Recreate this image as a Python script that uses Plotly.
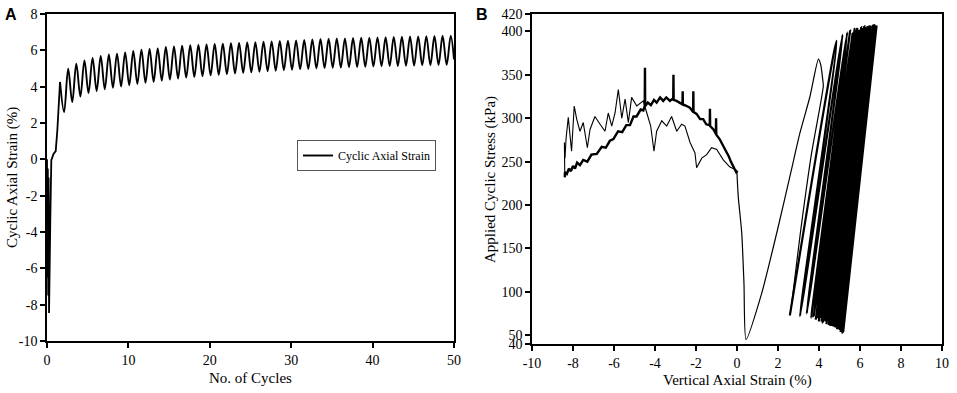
import plotly.graph_objects as go

# ---------------- Panel A data ----------------
a_init_cycle = [0.0, 0.05, 0.10, 0.15, 0.20, 0.25, 0.40, 0.53, 0.80, 1.07, 1.27, 1.48, 1.60]
a_init_strain = [0.0, -6.5, -0.5, -7.5, -1.0, -8.46, -3.5, -0.05, 0.30, 0.45, 1.6, 3.6, 4.26]

a_peak_cycle = [k + 0.6 for k in range(1, 50)]
a_peak_strain = [4.26, 4.99, 5.27, 5.45, 5.58, 5.69, 5.78, 5.82, 5.89, 5.96,
                 6.04, 6.07, 6.11, 6.18, 6.22, 6.26, 6.28, 6.30, 6.32, 6.35,
                 6.37, 6.39, 6.41, 6.43, 6.45, 6.47, 6.49, 6.51, 6.53, 6.55,
                 6.57, 6.60, 6.62, 6.64, 6.65, 6.66, 6.68, 6.69, 6.70, 6.71,
                 6.72, 6.74, 6.75, 6.76, 6.77, 6.78, 6.79, 6.80, 6.81]
a_trough_cycle = [k + 0.1 for k in range(2, 50)]
a_trough_strain = [2.60, 3.15, 3.45, 3.65, 3.76, 3.86, 3.94, 4.01, 4.08, 4.15,
                   4.21, 4.27, 4.33, 4.39, 4.45, 4.50, 4.54, 4.58, 4.62, 4.66,
                   4.69, 4.73, 4.76, 4.79, 4.82, 4.85, 4.88, 4.90, 4.93, 4.95,
                   4.97, 5.00, 5.02, 5.04, 5.05, 5.07, 5.08, 5.10, 5.11, 5.12,
                   5.13, 5.14, 5.15, 5.16, 5.17, 5.18, 5.19, 5.20]
a_end_cycle = 50.0
a_end_strain = 5.5

a_xticks = [0, 10, 20, 30, 40, 50]
a_xticklabels = ["0", "10", "20", "30", "40", "50"]
a_yticks = [-10, -8, -6, -4, -2, 0, 2, 4, 6, 8]
a_yticklabels = ["-10", "-8", "-6", "-4", "-2", "0", "2", "4", "6", "8"]

# ---------------- Panel B data ----------------
b_out_strain = [0.05, -0.02, -0.36, -0.67, -0.99, -1.24, -1.48, -1.72, -1.97, -2.05,
                -2.29, -2.54, -2.70, -2.94, -3.19, -3.43, -3.67, -3.92, -4.05, -4.21,
                -4.40, -4.57, -4.89, -5.14, -5.30, -5.46, -5.62, -5.79, -5.95, -6.11,
                -6.28, -6.44, -6.68, -6.93, -7.17, -7.30, -7.50, -7.66, -7.82, -7.94,
                -8.07, -8.23, -8.34, -8.39, -8.42, -8.40]
b_out_stress = [238, 240, 244, 252, 264, 266, 258, 254, 243, 260,
                272, 291, 293, 285, 302, 291, 297, 285, 262, 291,
                306, 320, 314, 324, 295, 322, 300, 333, 306, 291,
                306, 285, 293, 302, 287, 266, 295, 285, 299, 314,
                262, 301, 276, 254, 272, 232]

b_back_strain = [-8.40, -8.39, -8.30, -8.20, -8.10, -8.00, -7.90, -7.80, -7.66, -7.50,
                 -7.30, -7.10, -6.84, -6.60, -6.40, -6.20, -6.03, -5.80, -5.60, -5.40,
                 -5.22, -5.05, -4.90, -4.70, -4.57, -4.50, -4.49, -4.48, -4.35, -4.20,
                 -4.05, -3.92, -3.75, -3.60, -3.45, -3.27, -3.11, -3.10, -3.09, -2.95,
                 -2.80, -2.66, -2.65, -2.64, -2.45, -2.30, -2.14, -2.13, -2.12, -1.97,
                 -1.80, -1.65, -1.50, -1.33, -1.32, -1.31, -1.15, -1.03, -1.02, -1.01,
                 -0.85, -0.67, -0.50, -0.40, -0.30, -0.18, -0.08, 0.00]
b_back_stress = [232, 238, 236, 242, 239, 245, 242, 249, 246, 252,
                 250, 258, 259, 267, 266, 274, 276, 285, 284, 292,
                 292, 302, 302, 310, 309, 314, 358, 314, 318, 315,
                 321, 318, 324, 320, 324, 320, 323, 350, 321, 320,
                 318, 316, 331, 316, 314, 312, 307, 331, 307, 305,
                 299, 299, 293, 292, 311, 291, 287, 282, 300, 281,
                 276, 268, 262, 256, 250, 244, 240, 236]

b_first_strain = [0.00, 0.06, 0.23, 0.34, 0.44, 1.20, 2.01, 2.62, 3.07, 3.56,
                  3.97, 4.08, 4.18, 4.21, 3.64, 3.07, 2.67, 2.58]
b_first_stress = [236, 210, 168, 110, 45, 98, 175, 237, 283, 325,
                  368, 362, 345, 337, 260, 164, 87, 73]

b_trough_strain = [2.58, 3.07, 3.40, 3.62, 3.74, 3.84, 3.92, 3.99, 4.06, 4.13,
                   4.19, 4.25, 4.31, 4.37, 4.43, 4.48, 4.52, 4.56, 4.60, 4.64,
                   4.67, 4.71, 4.74, 4.77, 4.80, 4.83, 4.86, 4.88, 4.91, 4.93,
                   4.95, 4.98, 5.00, 5.02, 5.03, 5.05, 5.06, 5.08, 5.09, 5.10,
                   5.11, 5.12, 5.13, 5.14, 5.15, 5.16, 5.17, 5.18]
b_trough_stress = [73, 72, 75, 70, 72, 68, 71, 66, 70, 67,
                   65, 69, 66, 64, 67, 63, 66, 62, 65, 61,
                   64, 60, 63, 62, 59, 62, 60, 58, 61, 59,
                   57, 60, 58, 56, 59, 57, 55, 58, 56, 54,
                   57, 55, 56, 54, 55, 53, 55, 54]
b_top_strain = [4.86, 5.15, 5.38, 5.52, 5.64, 5.74, 5.80, 5.87, 5.94, 6.02,
                6.06, 6.10, 6.17, 6.21, 6.25, 6.28, 6.30, 6.32, 6.35, 6.37,
                6.39, 6.41, 6.43, 6.45, 6.47, 6.49, 6.51, 6.53, 6.55, 6.57,
                6.60, 6.62, 6.64, 6.65, 6.66, 6.68, 6.69, 6.70, 6.71, 6.72,
                6.74, 6.75, 6.76, 6.77, 6.78, 6.79, 6.80, 6.81]
b_top_stress = [389, 396, 399, 401, 398, 403, 400, 404, 402, 399,
                405, 403, 401, 406, 404, 400, 403, 405, 402, 406,
                404, 401, 405, 403, 407, 404, 402, 405, 403, 406,
                404, 402, 405, 407, 403, 405, 404, 406, 403, 405,
                407, 404, 406, 405, 403, 406, 405, 407]

b_xticks = [-10, -8, -6, -4, -2, 0, 2, 4, 6, 8, 10]
b_xticklabels = ["-10", "-8", "-6", "-4", "-2", "0", "2", "4", "6", "8", "10"]
b_yticks = [40, 50, 100, 150, 200, 250, 300, 350, 400, 420]
b_yticklabels = ["40", "50", "100", "150", "200", "250", "300", "350", "400", "420"]

# ---------------- Build sequences ----------------
osc_x, osc_y = [a_peak_cycle[0]], [a_peak_strain[0]]
for i in range(len(a_trough_cycle)):
    osc_x += [a_trough_cycle[i], a_peak_cycle[i + 1]]
    osc_y += [a_trough_strain[i], a_peak_strain[i + 1]]
osc_x.append(a_end_cycle)
osc_y.append(a_end_strain)

loop_x, loop_y = [], []
for i in range(len(b_trough_strain)):
    loop_x += [b_trough_strain[i], b_top_strain[i]]
    loop_y += [b_trough_stress[i], b_top_stress[i]]

SERIF = "Liberation Serif"
SANS = "Liberation Sans"
BLACK = "#000000"

fig = go.Figure()
fig.add_trace(go.Scatter(x=a_init_cycle, y=a_init_strain, mode="lines",
                         line=dict(color=BLACK, width=1.8), xaxis="x", yaxis="y",
                         showlegend=False, legendgroup="a"))
fig.add_trace(go.Scatter(x=osc_x, y=osc_y, mode="lines", name="Cyclic Axial Strain",
                         line=dict(color=BLACK, width=1.9, shape="spline", smoothing=1.0),
                         xaxis="x", yaxis="y", legendgroup="a"))

fig.add_trace(go.Scatter(x=b_out_strain, y=b_out_stress, mode="lines",
                         line=dict(color=BLACK, width=1.1), xaxis="x2", yaxis="y2",
                         showlegend=False))
fig.add_trace(go.Scatter(x=b_back_strain, y=b_back_stress, mode="lines",
                         line=dict(color=BLACK, width=2.4), xaxis="x2", yaxis="y2",
                         showlegend=False))
fig.add_trace(go.Scatter(x=b_first_strain, y=b_first_stress, mode="lines",
                         line=dict(color=BLACK, width=1.2, shape="spline", smoothing=0.6),
                         xaxis="x2", yaxis="y2", showlegend=False))
fig.add_trace(go.Scatter(x=loop_x, y=loop_y, mode="lines",
                         line=dict(color=BLACK, width=2.2, shape="spline", smoothing=1.3),
                         xaxis="x2", yaxis="y2", showlegend=False))

axis_common = dict(showline=True, mirror=True, linecolor=BLACK, linewidth=1.5,
                   ticks="outside", ticklen=5, tickwidth=1.5, tickcolor=BLACK,
                   showgrid=False, zeroline=False, automargin=False,
                   tickfont=dict(family=SERIF, size=14, color=BLACK))

fig.update_layout(
    width=957, height=393,
    margin=dict(l=0, r=0, t=14, b=49, autoexpand=False),
    paper_bgcolor="white", plot_bgcolor="white",
    font=dict(family=SERIF, color=BLACK),
    xaxis=dict(domain=[47 / 957, 454 / 957], range=[0, 50], anchor="y",
               tickmode="array", tickvals=a_xticks, ticktext=a_xticklabels, **axis_common),
    yaxis=dict(domain=[3 / 330, 1], range=[-10, 8], anchor="x",
               tickmode="array", tickvals=a_yticks, ticktext=a_yticklabels, **axis_common),
    xaxis2=dict(domain=[532 / 957, 942 / 957], range=[-10, 10], anchor="y2",
                tickmode="array", tickvals=b_xticks, ticktext=b_xticklabels, **axis_common),
    yaxis2=dict(domain=[0, 1], range=[40, 420], anchor="x2",
                tickmode="array", tickvals=b_yticks, ticktext=b_yticklabels, **axis_common),
    showlegend=True,
    legend=dict(x=297 / 957, y=(344 - 140) / 330, xanchor="left", yanchor="top",
                bordercolor="#555555", borderwidth=1, bgcolor="white",
                font=dict(family=SERIF, size=12, color=BLACK),
                itemwidth=30, tracegroupgap=0),
)

# axis titles and panel letters placed by pixel position (converted to paper coordinates)
labels = [
    ("No. of Cycles", 250, 378, 0, SERIF, 15),
    ("Cyclic Axial Strain (%)", 12, 178, -90, SERIF, 15),
    ("Vertical Axial Strain (%)", 737, 380, 0, SERIF, 15),
    ("Applied Cyclic Stress (kPa)", 490, 179, -90, SERIF, 15),
    ("<b>A</b>", 11, 14, 0, SANS, 16),
    ("<b>B</b>", 482, 14, 0, SANS, 16),
]
for text, px, py, ang, fam, size in labels:
    fig.add_annotation(text=text, x=px / 957, y=(344 - py) / 330, xref="paper", yref="paper",
                       xanchor="center", yanchor="middle", textangle=ang, showarrow=False,
                       font=dict(family=fam, size=size, color=BLACK))

fig.write_html("out.html", config={"displayModeBar": False},
               post_script="document.body.style.margin='0';document.body.style.overflow='hidden';")
